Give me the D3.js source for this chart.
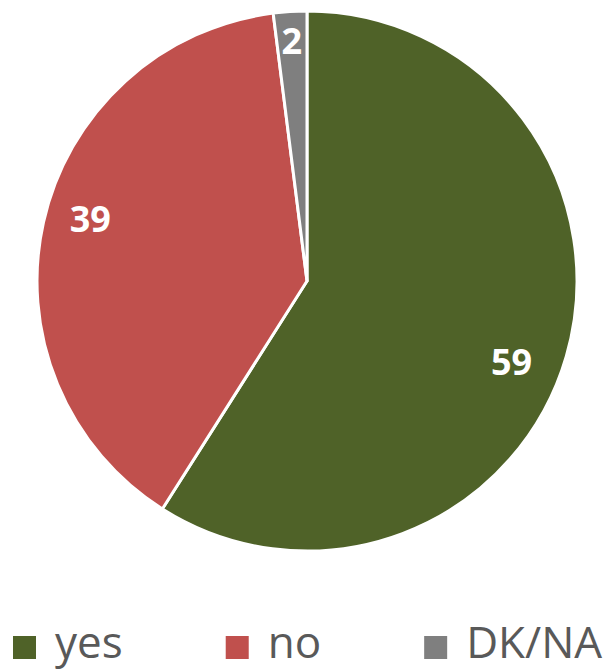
<!DOCTYPE html>
<html>
<head>
<meta charset="utf-8">
<script src="https://cdn.jsdelivr.net/npm/d3@7"></script>
<style>
  body { margin: 0; background: #fff; }
  svg { display: block; }
</style>
</head>
<body>
<div id="chart"></div>
<script>
// answers and their shares (%)
const categories = ["yes", "no", "DK/NA"];
const values = [59, 39, 2];
const colors = ["#4F6228", "#C0504D", "#7F7F7F"];

const width = 613;
const height = 670;
const cx = 307, cy = 281, radius = 270;

const svg = d3.select("#chart")
    .append("svg")
        .attr("width", width)
        .attr("height", height)
        .style("font-family", "'Open Sans', sans-serif");

const data = categories.map((c, i) => ({ name: c, value: values[i] }));

const colorScale = d3.scaleOrdinal()
    .domain(categories)
    .range(colors);

const pie = d3.pie()
    .value(d => d.value)
    .sort(null);

const arcs = pie(data);

const arc = d3.arc()
    .innerRadius(0)
    .outerRadius(radius);

const bounds = svg.append("g")
    .attr("transform", `translate(${cx}, ${cy})`);

bounds.selectAll("path")
    .data(arcs)
    .join("path")
        .attr("d", arc)
        .attr("fill", d => colorScale(d.data.name))
        .attr("stroke", "#fff")
        .attr("stroke-width", 3)
        .attr("stroke-linejoin", "round");

// data labels (best-fit placement like Excel: small nudges per slice)
const labelPlace = [
    { r: 0.815, turn: 0.095 },
    { r: 0.835, turn: 0.06 },
    { r: 0.89,  turn: 0.0 }
];

bounds.selectAll("text.label")
    .data(arcs)
    .join("text")
        .attr("class", "label")
        .attr("transform", (d, i) => {
            const mid = (d.startAngle + d.endAngle) / 2 + labelPlace[i].turn;
            const [x, y] = d3.pointRadial(mid, radius * labelPlace[i].r);
            return `translate(${x}, ${y})`;
        })
        .attr("text-anchor", "middle")
        .attr("dy", "0.36em")
        .attr("fill", "#fff")
        .attr("font-weight", 700)
        .attr("font-size", 36)
        .text(d => d.data.value);

// legend
const legend = svg.append("g")
    .attr("transform", "translate(13, 658)");

let xPos = 0;
data.forEach(d => {
    const item = legend.append("g")
        .attr("transform", `translate(${xPos}, 0)`);
    item.append("rect")
        .attr("x", 0)
        .attr("y", -22)
        .attr("width", 23)
        .attr("height", 23)
        .attr("fill", colorScale(d.name));
    const t = item.append("text")
        .attr("x", 42)
        .attr("y", 0)
        .attr("fill", "#595959")
        .attr("font-size", 44)
        .text(d.name);
    xPos += 42 + t.node().getComputedTextLength() + 103;
});
</script>
</body>
</html>
